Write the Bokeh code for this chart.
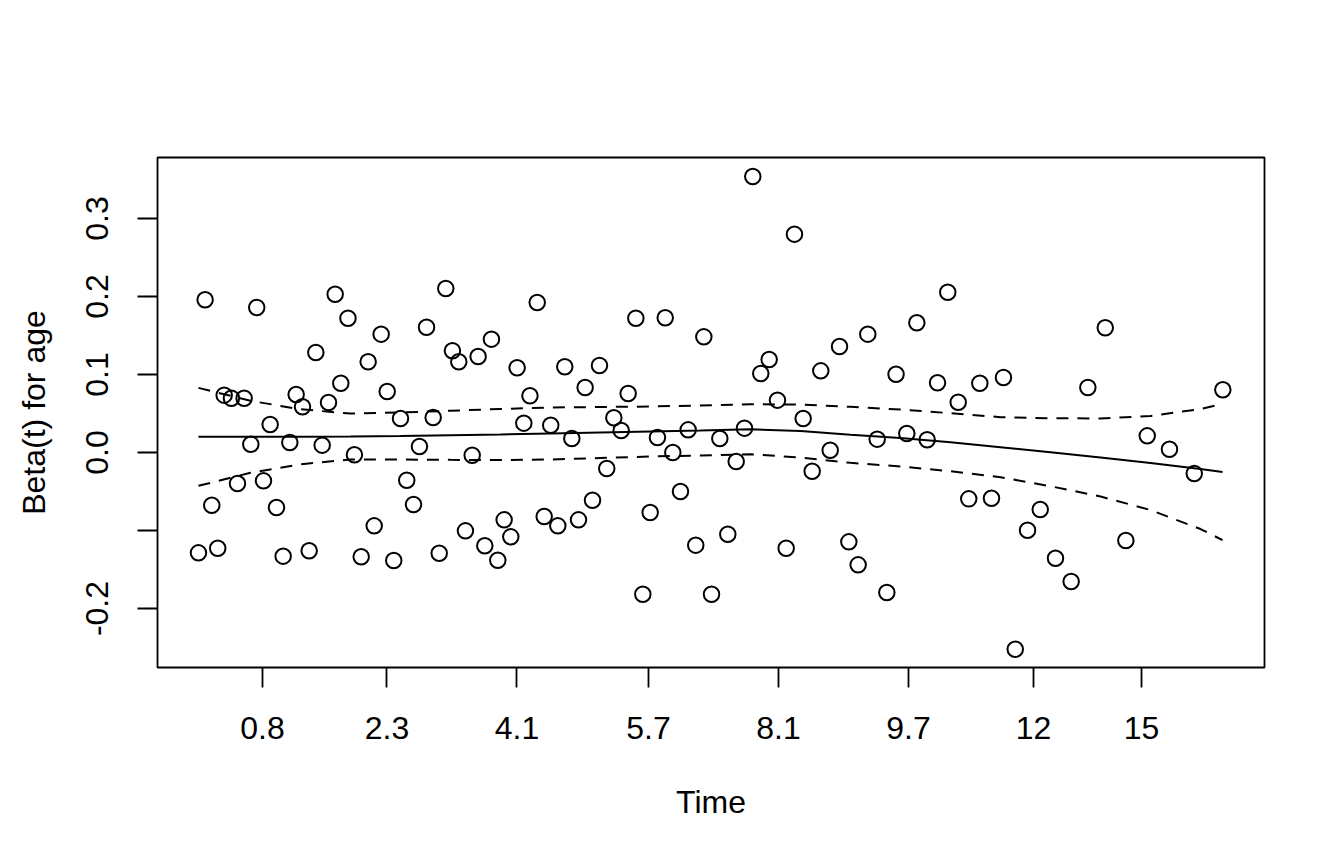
from bokeh.plotting import figure
from bokeh.models import FixedTicker, Range1d
from bokeh.embed import file_html
from bokeh.resources import INLINE

# transformed time (x) and scaled Schoenfeld residuals (y) for age
time_x = [0.000, 0.0065, 0.0130, 0.0188, 0.0251, 0.0322, 0.0381, 0.0446, 0.0511, 0.0569,
          0.0635, 0.0700, 0.0762, 0.0827, 0.0892, 0.0954, 0.1016, 0.1081, 0.1146, 0.1208,
          0.1270, 0.1335, 0.1390, 0.1460, 0.1523, 0.1589, 0.1657, 0.1716, 0.1784, 0.1843,
          0.1907, 0.1973, 0.2034, 0.2100, 0.2158, 0.2227, 0.2292, 0.2351, 0.2415, 0.2480,
          0.2542, 0.2607, 0.2673, 0.2731, 0.2796, 0.2861, 0.2923, 0.2985, 0.3050, 0.3112,
          0.3177, 0.3237, 0.3308, 0.3376, 0.3440, 0.3509, 0.3577, 0.3646, 0.3711, 0.3776,
          0.3848, 0.3916, 0.3987, 0.4056, 0.4128, 0.4196, 0.4271, 0.4339, 0.4411, 0.4482,
          0.4558, 0.4632, 0.4707, 0.4782, 0.4856, 0.4935, 0.5010, 0.5091, 0.5169, 0.5251,
          0.5332, 0.5413, 0.5491, 0.5573, 0.5654, 0.5739, 0.5820, 0.5905, 0.5993, 0.6077,
          0.6169, 0.6260, 0.6351, 0.6442, 0.6536, 0.6628, 0.6722, 0.6812, 0.6917, 0.7015,
          0.7116, 0.7217, 0.7317, 0.7419, 0.7522, 0.7630, 0.7744, 0.7861, 0.7976, 0.8096,
          0.8220, 0.8369, 0.8522, 0.8685, 0.8855, 0.9056, 0.9265, 0.9482, 0.9724, 1.0003]

beta_age = [-0.1286, 0.1958, -0.0676, -0.1227, 0.0735, 0.0696, -0.0397, 0.0696, 0.0106, 0.1859,
            -0.0363, 0.0359, -0.0705, -0.1329, 0.0128, 0.0744, 0.0586, -0.1260, 0.1282, 0.0094,
            0.0641, 0.2029, 0.0888, 0.1722, -0.0029, -0.1337, 0.1163, -0.0940, 0.1517, 0.0782,
            -0.1385, 0.0436, -0.0355, -0.0667, 0.0077, 0.1606, 0.0449, -0.1291, 0.2103, 0.1304,
            0.1163, -0.1004, -0.0035, 0.1231, -0.1196, 0.1453, -0.1381, -0.0863, -0.1081, 0.1086,
            0.0376, 0.0728, 0.1923, -0.0821, 0.0350, -0.0940, 0.1099, 0.0179, -0.0863, 0.0833,
            -0.0612, 0.1115, -0.0205, 0.0445, 0.0282, 0.0756, 0.1722, -0.1817, -0.0769, 0.0192,
            0.1727, 0.0000, -0.0500, 0.0291, -0.1188, 0.1483, -0.1817, 0.0179, -0.1047, -0.0115,
            0.0312, 0.3538, 0.1013, 0.1192, 0.0671, -0.1227, 0.2799, 0.0436, -0.0240, 0.1047,
            0.0029, 0.1359, -0.1145, -0.1440, 0.1517, 0.0171, -0.1795, 0.1004, 0.0244, 0.1663,
            0.0163, 0.0894, 0.2055, 0.0645, -0.0594, 0.0888, -0.0586, 0.0962, -0.2522, -0.0996,
            -0.0731, -0.1355, -0.1654, 0.0833, 0.1599, -0.1128, 0.0214, 0.0042, -0.0269, 0.0804]

# smoothed fit with +/- 2 SE band
fit_x = [0.0, 0.0508, 0.0996, 0.1484, 0.1973, 0.2461, 0.2949, 0.3438, 0.3926, 0.4414, 0.4902,
         0.5391, 0.5879, 0.6367, 0.6855, 0.7344, 0.7832, 0.8320, 0.8809, 0.9297, 0.9785, 1.0]
fit_y = [0.0201, 0.0201, 0.0201, 0.0205, 0.0212, 0.0221, 0.0231, 0.0244, 0.0256, 0.0269, 0.0282,
         0.0297, 0.0276, 0.0227, 0.0186, 0.0132, 0.0068, 0.0004, -0.0064, -0.0135, -0.0212, -0.0250]
upper_y = [0.0829, 0.0663, 0.0554, 0.0500, 0.0513, 0.0535, 0.0558, 0.0577, 0.0583, 0.0590, 0.0603,
           0.0618, 0.0615, 0.0586, 0.0551, 0.0504, 0.0453, 0.0440, 0.0436, 0.0468, 0.0558, 0.0622]
lower_y = [-0.0427, -0.0260, -0.0151, -0.0090, -0.0090, -0.0094, -0.0096, -0.0090, -0.0071, -0.0051, -0.0038,
           -0.0023, -0.0064, -0.0132, -0.0179, -0.0240, -0.0317, -0.0432, -0.0564, -0.0737, -0.0981, -0.1122]

x_tick_pos = [0.0625, 0.1841, 0.3110, 0.4395, 0.5664, 0.6934, 0.8154, 0.9209]
x_tick_labels = ["0.8", "2.3", "4.1", "5.7", "8.1", "9.7", "12", "15"]
y_tick_pos = [-0.2, -0.1, 0.0, 0.1, 0.2, 0.3]
y_tick_labels = ["-0.2", "", "0.0", "0.1", "0.2", "0.3"]

FONT = "Liberation Sans"
FS = "32px"
LW = 2.0

p = figure(width=1320, height=840, output_backend="svg", toolbar_location=None,
           x_range=Range1d(-0.04, 1.041), y_range=Range1d(-0.2756, 0.3782),
           min_border_left=157, min_border_right=56, min_border_top=157, min_border_bottom=173,
           x_axis_label="Time", y_axis_label="Beta(t) for age")

p.xgrid.visible = False
p.ygrid.visible = False
p.background_fill_color = "white"
p.border_fill_color = "white"
p.outline_line_color = "black"
p.outline_line_width = 1.8

p.xaxis.ticker = FixedTicker(ticks=x_tick_pos)
p.xaxis.major_label_overrides = {k: v for k, v in zip(x_tick_pos, x_tick_labels)}
p.yaxis.ticker = FixedTicker(ticks=y_tick_pos)
p.yaxis.major_label_overrides = {k: v for k, v in zip(y_tick_pos, y_tick_labels)}
p.yaxis.major_label_orientation = "vertical"

for ax in (p.xaxis, p.yaxis):
    ax.axis_line_color = None
    ax.minor_tick_line_color = None
    ax.major_tick_line_color = "black"
    ax.major_tick_line_width = 1.8
    ax.major_tick_out = 20
    ax.major_tick_in = 0
    ax.major_label_text_font = FONT
    ax.major_label_text_font_size = FS
    ax.major_label_text_color = "black"
    ax.axis_label_text_font = FONT
    ax.axis_label_text_font_size = FS
    ax.axis_label_text_font_style = "normal"
    ax.axis_label_text_color = "black"

p.xaxis.major_label_standoff = 29
p.xaxis.axis_label_standoff = 42
p.yaxis.major_label_standoff = 29
p.yaxis.axis_label_standoff = 32

p.scatter(time_x, beta_age, marker="circle", size=15.5, fill_color=None,
          line_color="black", line_width=LW)
p.line(fit_x, fit_y, line_color="black", line_width=LW)
p.line(fit_x, upper_y, line_color="black", line_width=LW, line_dash="12 9")
p.line(fit_x, lower_y, line_color="black", line_width=LW, line_dash="12 9")

open("out.html", "w").write(file_html(p, INLINE))
